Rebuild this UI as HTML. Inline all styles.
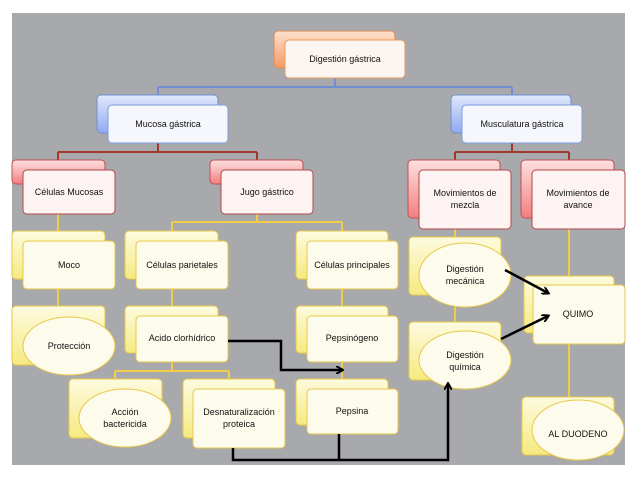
<!DOCTYPE html>
<html><head><meta charset="utf-8"><style>
html,body{margin:0;padding:0;background:#fff;}
svg{display:block;}
text{font-family:"Liberation Sans",sans-serif;font-size:9px;fill:#111;text-anchor:middle;}
</style></head><body>
<svg width="638" height="479" viewBox="0 0 638 479" xmlns="http://www.w3.org/2000/svg">
<defs>
<linearGradient id="gO" x1="0" y1="0" x2="0" y2="1"><stop offset="0" stop-color="#fde0cc"/><stop offset="1" stop-color="#f59a62"/></linearGradient>
<linearGradient id="gB" x1="0" y1="0" x2="0" y2="1"><stop offset="0" stop-color="#e0e8fb"/><stop offset="1" stop-color="#8eaaf0"/></linearGradient>
<linearGradient id="gR" x1="0" y1="0" x2="0" y2="1"><stop offset="0" stop-color="#fde0e0"/><stop offset="1" stop-color="#f27f7f"/></linearGradient>
<linearGradient id="gY" x1="0" y1="0" x2="0" y2="1"><stop offset="0" stop-color="#fdfbe0"/><stop offset="1" stop-color="#f5ea80"/></linearGradient>
<marker id="ah" markerWidth="8" markerHeight="8" refX="6" refY="4" orient="auto" markerUnits="userSpaceOnUse"><path d="M0,0 L7,4 L0,8" fill="none" stroke="#000" stroke-width="2"/></marker>
</defs>
<rect x="12" y="13" width="613" height="452" fill="#a7a9ad"/>
<!-- connectors -->
<g fill="none" stroke-width="2">
<path d="M335 78 V87 M158 87 H512 M158 87 V96 M512 87 V96" stroke="#6f8fd0"/>
<path d="M158 143 V152 M58 152 H257 M58 152 V161 M257 152 V161" stroke="#a03a2a"/>
<path d="M512 143 V152 M455 152 H569 M455 152 V161 M569 152 V161" stroke="#a03a2a"/>
<g stroke="#f1cc4a">
<path d="M58 214 V306"/>
<path d="M257 214 V222 M172 222 H342 M172 222 V232 M342 222 V380"/>
<path d="M172 289 V307 M172 362 V371 M115 371 H229 M115 371 V380 M229 371 V380"/>
<path d="M455 229 V323"/>
<path d="M569 229 V398"/>
</g>
</g>
<!-- boxes -->
<g stroke-width="1">
<!-- Digestion -->
<rect x="274" y="31" width="121" height="37" rx="4" fill="url(#gO)" stroke="#d98a55"/>
<rect x="285" y="40" width="120" height="38" rx="4" fill="#fdf5ef" stroke="#e59a60"/>
<rect x="97" y="95" width="121" height="38" rx="4" fill="url(#gB)" stroke="#7090d0"/>
<rect x="108" y="105" width="120" height="38" rx="4" fill="#f5f7fd" stroke="#7f9ee0"/>
<rect x="451" y="95" width="120" height="38" rx="4" fill="url(#gB)" stroke="#7090d0"/>
<rect x="462" y="105" width="120" height="38" rx="4" fill="#f5f7fd" stroke="#7f9ee0"/>
<!-- red -->
<rect x="12" y="160" width="93" height="24" rx="4" fill="url(#gR)" stroke="#c05050"/>
<rect x="23" y="170" width="92" height="44" rx="4" fill="#fdf3f3" stroke="#b04848"/>
<rect x="210" y="160" width="93" height="24" rx="4" fill="url(#gR)" stroke="#c05050"/>
<rect x="221" y="170" width="92" height="44" rx="4" fill="#fdf3f3" stroke="#b04848"/>
<rect x="408" y="160" width="92" height="58" rx="4" fill="url(#gR)" stroke="#c05050"/>
<rect x="419" y="170" width="92" height="59" rx="4" fill="#fdf3f3" stroke="#b04848"/>
<rect x="521" y="160" width="93" height="58" rx="4" fill="url(#gR)" stroke="#c05050"/>
<rect x="532" y="170" width="93" height="59" rx="4" fill="#fdf3f3" stroke="#b04848"/>
<!-- yellow -->
<g stroke="#e8c848">
<rect x="12" y="231" width="93" height="48" rx="4" fill="url(#gY)"/>
<rect x="23" y="241" width="92" height="48" rx="4" fill="#fdfcec"/>
<rect x="125" y="231" width="93" height="48" rx="4" fill="url(#gY)"/>
<rect x="136" y="241" width="92" height="48" rx="4" fill="#fdfcec"/>
<rect x="296" y="231" width="92" height="48" rx="4" fill="url(#gY)"/>
<rect x="307" y="241" width="91" height="48" rx="4" fill="#fdfcec"/>
<rect x="12" y="306" width="93" height="59" rx="4" fill="url(#gY)"/>
<ellipse cx="69" cy="346" rx="46" ry="29" fill="#fdfcec"/>
<rect x="125" y="306" width="93" height="47" rx="4" fill="url(#gY)"/>
<rect x="136" y="316" width="92" height="46" rx="4" fill="#fdfcec"/>
<rect x="296" y="306" width="92" height="47" rx="4" fill="url(#gY)"/>
<rect x="307" y="316" width="91" height="46" rx="4" fill="#fdfcec"/>
<rect x="69" y="379" width="93" height="59" rx="4" fill="url(#gY)"/>
<ellipse cx="125" cy="418" rx="46" ry="29" fill="#fdfcec"/>
<rect x="183" y="379" width="92" height="59" rx="4" fill="url(#gY)"/>
<rect x="193" y="389" width="92" height="59" rx="4" fill="#fdfcec"/>
<rect x="296" y="379" width="92" height="46" rx="4" fill="url(#gY)"/>
<rect x="307" y="389" width="91" height="45" rx="4" fill="#fdfcec"/>
<rect x="409" y="237" width="92" height="58" rx="4" fill="url(#gY)"/>
<ellipse cx="465" cy="275" rx="46" ry="32" fill="#fdfcec"/>
<rect x="409" y="322" width="92" height="58" rx="4" fill="url(#gY)"/>
<ellipse cx="465" cy="360" rx="46" ry="29" fill="#fdfcec"/>
<rect x="524" y="276" width="90" height="57" rx="4" fill="url(#gY)"/>
<rect x="533" y="285" width="92" height="59" rx="4" fill="#fdfcec"/>
<rect x="522" y="397" width="92" height="58" rx="4" fill="url(#gY)"/>
<ellipse cx="578" cy="430" rx="46" ry="30" fill="#fdfcec"/>
</g>
</g>
<!-- black arrows -->
<g fill="none" stroke="#000" stroke-width="2.5">
<path d="M228 341 H281 V370 H342" marker-end="url(#ah)"/>
<path d="M233 448 V460 H448 V384" marker-end="url(#ah)"/>
<path d="M339 434 V460"/>
<path d="M505 270 L548 293" marker-end="url(#ah)"/>
<path d="M501 339 L548 316" marker-end="url(#ah)"/>
</g>
<!-- labels -->
<text x="345" y="62">Digestión gástrica</text>
<text x="168" y="127">Mucosa gástrica</text>
<text x="522" y="127">Musculatura gástrica</text>
<text x="69" y="195">Células Mucosas</text>
<text x="267" y="195">Jugo gástrico</text>
<text x="465" y="196">Movimientos de</text>
<text x="465" y="208">mezcla</text>
<text x="578" y="196">Movimientos de</text>
<text x="578" y="208">avance</text>
<text x="69" y="268">Moco</text>
<text x="182" y="268">Células parietales</text>
<text x="352" y="268">Células principales</text>
<text x="465" y="272">Digestión</text>
<text x="465" y="284">mecánica</text>
<text x="69" y="349">Protección</text>
<text x="182" y="341">Acido clorhídrico</text>
<text x="352" y="341">Pepsinógeno</text>
<text x="465" y="358">Digestión</text>
<text x="465" y="370">química</text>
<text x="578" y="317">QUIMO</text>
<text x="125" y="415">Acción</text>
<text x="125" y="427">bactericida</text>
<text x="239" y="415">Desnaturalización</text>
<text x="239" y="427">proteica</text>
<text x="352" y="414">Pepsina</text>
<text x="578" y="437">AL DUODENO</text>
</svg>
</body></html>
